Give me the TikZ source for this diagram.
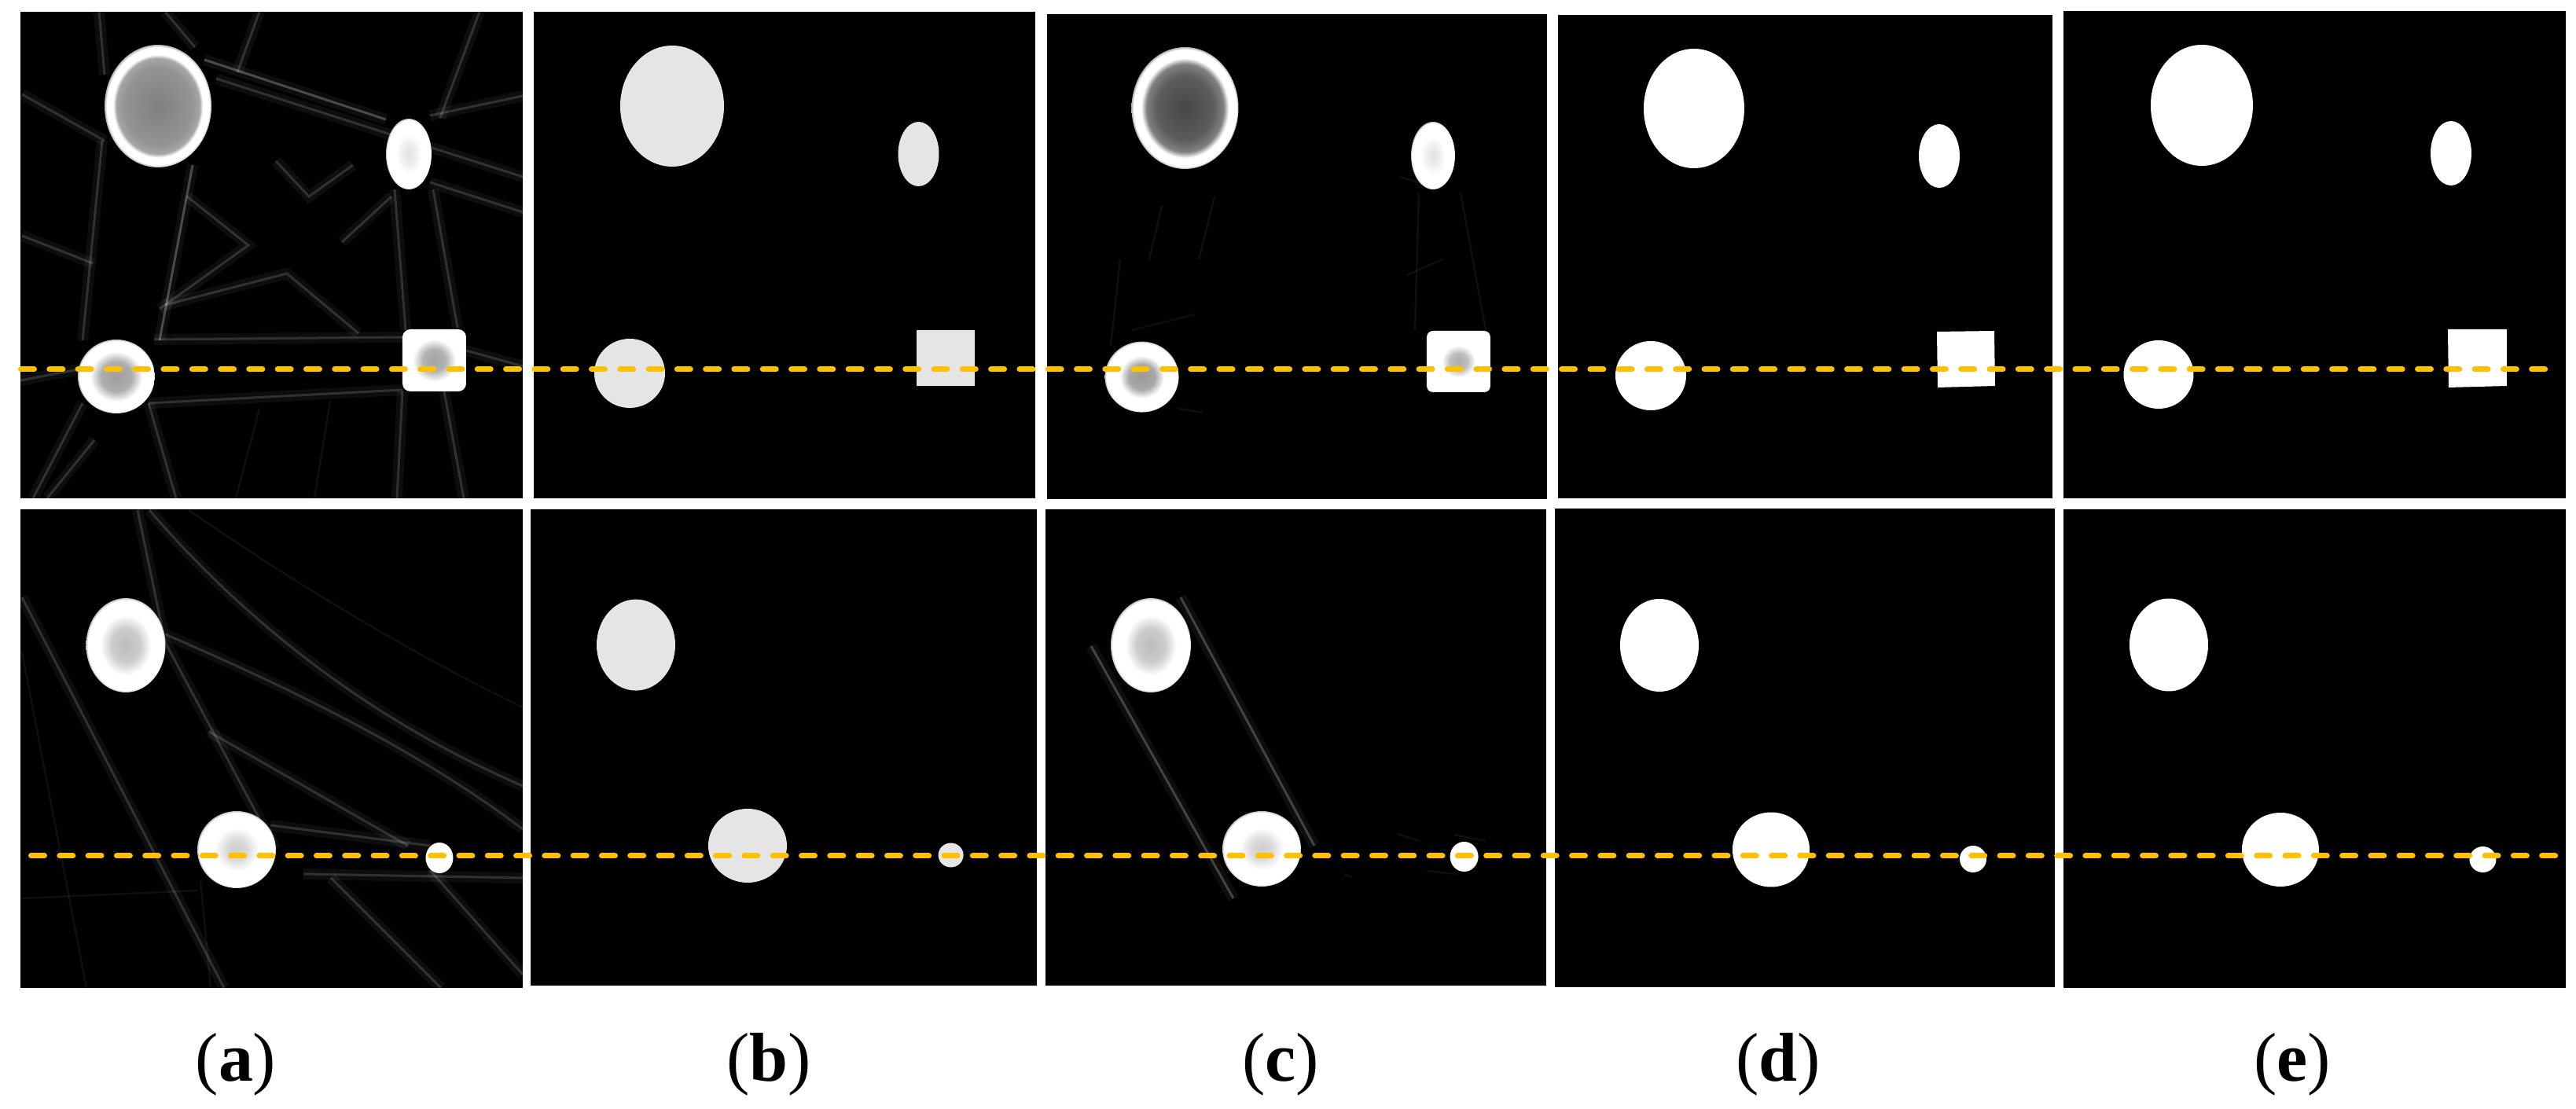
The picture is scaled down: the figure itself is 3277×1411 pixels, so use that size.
\documentclass[tikz,border=0pt]{standalone}
\usepackage{fontspec}
\setmainfont{Liberation Serif}
\definecolor{cutline}{RGB}{255,192,0}
\definecolor{phantomgray}{gray}{0.9}
% radial shadings: 25bp = object boundary
\pgfdeclareradialshading{aBig}{\pgfpointorigin}{color(0bp)=(black!50); color(16bp)=(black!42); color(19.5bp)=(black!35); color(21bp)=(white); color(24bp)=(white); color(25bp)=(black!30); color(50bp)=(black!30)}
\pgfdeclareradialshading{cBig}{\pgfpointorigin}{color(0bp)=(black!72); color(13bp)=(black!64); color(18bp)=(black!50); color(20.5bp)=(white); color(24bp)=(white); color(25bp)=(black!30); color(50bp)=(black!30)}
\pgfdeclareradialshading{softWhite}{\pgfpointorigin}{color(0bp)=(black!12); color(8bp)=(black!6); color(14bp)=(white); color(24bp)=(white); color(25bp)=(black!25); color(50bp)=(black!25)}
\pgfdeclareradialshading{aCirc}{\pgfpointorigin}{color(0bp)=(black!38); color(10bp)=(black!32); color(17bp)=(white); color(24bp)=(white); color(25bp)=(black!25); color(50bp)=(black!25)}
\pgfdeclareradialshading{aSq}{\pgfpointorigin}{color(0bp)=(black!36); color(9bp)=(black!30); color(17bp)=(white); color(50bp)=(white)}
\pgfdeclareradialshading{cCirc}{\pgfpointorigin}{color(0bp)=(black!40); color(9bp)=(black!34); color(15bp)=(white); color(24bp)=(white); color(25bp)=(black!25); color(50bp)=(black!25)}
\pgfdeclareradialshading{cSq}{\pgfpointorigin}{color(0bp)=(black!32); color(7bp)=(black!26); color(13bp)=(white); color(50bp)=(white)}
\pgfdeclareradialshading{lowEll}{\pgfpointorigin}{color(0bp)=(black!26); color(9bp)=(black!20); color(16bp)=(white); color(24bp)=(white); color(25bp)=(black!25); color(50bp)=(black!25)}
\pgfdeclareradialshading{lowCirc}{\pgfpointorigin}{color(0bp)=(black!20); color(7bp)=(black!14); color(14bp)=(white); color(24bp)=(white); color(25bp)=(black!25); color(50bp)=(black!25)}
\begin{document}
\begin{tikzpicture}[x=0.1pt,y=-0.1pt,
  panel/.style={fill=black},
  cut/.style={draw=cutline, line width=0.7pt, line cap=round, dash pattern=on 1.7pt off 1.93pt},
  streak/.style={draw=white, line width=0.3pt, draw opacity=0.15, preaction={draw=white, line width=1.4pt, draw opacity=0.05}},
  faint/.style={draw=white, line width=0.25pt, draw opacity=0.06},
  objgray/.style={fill=phantomgray},
  objwhite/.style={fill=white},
  lab/.style={anchor=base, font=\fontsize{8.8}{10}\selectfont, inner sep=0pt}]
\useasboundingbox (0,0) rectangle (3277,1411);
\fill[white] (0,0) rectangle (3277,1411);

% ---------------- panels ----------------
\fill[panel] (26,15) rectangle (665,634);
\fill[panel] (679,15) rectangle (1317,634);
\fill[panel] (1332,18) rectangle (1968,635);
\fill[panel] (1982,19) rectangle (2611,634);
\fill[panel] (2625,14) rectangle (3264,634);
\fill[panel] (26,648) rectangle (665,1257);
\fill[panel] (675,648) rectangle (1319,1254);
\fill[panel] (1330,648) rectangle (1967,1254);
\fill[panel] (1978,647) rectangle (2614,1256);
\fill[panel] (2625,648) rectangle (3264,1257);

% ---------------- (a) top: streak artefacts ----------------
\begin{scope}
\clip (26,15) rectangle (665,634);
\draw[streak] (28,120) -- (133,179);
\draw[streak] (28,300) -- (118,335);
\draw[streak, draw opacity=.25] (260,76) -- (491,152);
\draw[streak] (275,100) -- (665,225);
\draw[streak] (210,15) -- (248,60);
\draw[streak] (330,15) -- (302,92);
\draw[streak] (126,15) -- (133,95);
\draw[streak] (610,15) -- (560,150);
\draw[streak] (130,179) -- (105,433);
\draw[streak, draw opacity=.25] (245,210) -- (203,433);
\draw[streak] (502,241) -- (516,420);
\draw[streak] (551,241) -- (582,417);
\draw[streak] (196,432) -- (512,429);
\draw[streak] (189,513) -- (512,496);
\draw[streak] (512,498) -- (505,634);
\draw[streak] (565,498) -- (590,634);
\draw[streak] (189,513) -- (224,634);
\draw[streak] (105,513) -- (42,634);
\draw[streak] (210,388) -- (365,348) -- (456,424);
\draw[streak] (238,250) -- (316,312) -- (203,393);
\draw[streak] (435,308) -- (498,250);
\draw[streak] (351,205) -- (393,250) -- (449,210);
\draw[streak] (547,147) -- (665,122);
\draw[streak] (547,232) -- (665,270);
\draw[streak] (593,446) -- (665,466);
\draw[streak] (105,469) -- (26,484);
\draw[streak] (60,634) -- (120,560);
\draw[faint] (300,634) -- (330,520);
\draw[faint] (400,634) -- (420,510);
\end{scope}
% (a) top objects
\shade[shading=aBig] (201,135) ellipse [x radius=68, y radius=78];
\shade[shading=softWhite] (520,196) ellipse [x radius=29, y radius=45];
\shade[shading=aCirc] (148,479) ellipse [x radius=49, y radius=47];
\shade[shading=aSq, rounded corners=1pt] (512,419) rectangle (593,498);

% ---------------- (b) top ----------------
\fill[objgray] (855,135) ellipse [x radius=66, y radius=77];
\fill[objgray] (1168.5,196) ellipse [x radius=26, y radius=41];
\fill[objgray] (801,475) ellipse [x radius=45, y radius=44];
\fill[objgray] (1166.5,420) rectangle (1240,491);

% ---------------- (c) top ----------------
\begin{scope}
\clip (1332,18) rectangle (1968,635);
\draw[faint] (1413,440) -- (1425,330);
\draw[faint] (1462,330) -- (1478,262);
\draw[faint] (1545,250) -- (1525,330);
\draw[faint] (1780,225) -- (1832,240);
\draw[faint] (1790,350) -- (1835,330);
\draw[faint] (1805,245) -- (1800,420);
\draw[faint] (1858,245) -- (1890,420);
\draw[faint] (1440,420) -- (1520,400);
\draw[faint] (1500,520) -- (1530,525);
\end{scope}
\shade[shading=cBig] (1507.5,137.5) ellipse [x radius=68, y radius=77.5];
\shade[shading=softWhite] (1823,198) ellipse [x radius=28, y radius=43];
\shade[shading=cCirc] (1452.6,479.6) ellipse [x radius=47, y radius=45];
\shade[shading=cSq, rounded corners=0.8pt] (1815,421) rectangle (1896,499);

% ---------------- (d) top ----------------
\fill[objwhite] (2155,138) ellipse [x radius=64, y radius=76];
\fill[objwhite] (2467,198.5) ellipse [x radius=26, y radius=40.5];
\fill[objwhite] (2100,478) ellipse [x radius=45, y radius=44];
\fill[objwhite] (2464,422) -- (2537,421) -- (2538,491) -- (2465,493) -- cycle;

% ---------------- (e) top ----------------
\fill[objwhite] (2801,134) ellipse [x radius=65, y radius=77];
\fill[objwhite] (3118,195) ellipse [x radius=26, y radius=41];
\fill[objwhite] (2746,476.5) ellipse [x radius=44.5, y radius=43.5];
\fill[objwhite] (3114,419) -- (3189,419) -- (3189,491) -- (3115,493) -- cycle;

% ---------------- (a) bottom: streak artefacts ----------------
\begin{scope}
\clip (26,648) rectangle (665,1257);
\draw[streak] (28,760) -- (285,1257);
\draw[streak] (175,649) -- (210,817) -- (351,1081);
\draw[streak] (210,807) .. controls (380,880) and (540,960) .. (665,1055);
\draw[streak] (190,649) .. controls (320,800) and (480,920) .. (665,1000);
\draw[faint] (240,649) .. controls (400,760) and (560,850) .. (665,900);
\draw[streak] (344,1050) -- (547,1076);
\draw[streak] (386,1112) -- (665,1117);
\draw[streak] (547,1107) -- (665,1240);
\draw[streak] (421,1117) -- (561,1257);
\draw[faint] (28,1143) -- (252,1133);
\draw[streak] (266,931) -- (519,1076);
\draw[faint] (255,1120) -- (268,1257);
\draw[faint] (28,830) -- (110,1257);
\end{scope}
\shade[shading=lowEll] (160,821) ellipse [x radius=50.5, y radius=60];
\shade[shading=lowCirc] (301,1081) ellipse [x radius=50, y radius=49];
\fill[objwhite] (559,1091.5) ellipse [x radius=17.5, y radius=19.5];

% ---------------- (b) bottom ----------------
\fill[objgray] (809,820.6) ellipse [x radius=50, y radius=58];
\fill[objgray] (951,1076) ellipse [x radius=50, y radius=47];
\fill[objgray] (1209.6,1088) ellipse [x radius=16, y radius=15.5];

% ---------------- (c) bottom ----------------
\begin{scope}
\clip (1330,648) rectangle (1967,1254);
\draw[streak, draw opacity=.22] (1388,822) -- (1569,1143);
\draw[streak, draw opacity=.22] (1502,760) -- (1672,1076);
\draw[faint] (1778,1061) -- (1805,1070);
\draw[faint] (1815,1108) -- (1852,1112);
\draw[faint] (1850,1062) -- (1890,1070);
\draw[faint] (1710,1112) -- (1720,1116);
\end{scope}
\shade[shading=lowEll] (1464,821) ellipse [x radius=51, y radius=60];
\shade[shading=lowCirc] (1605,1080) ellipse [x radius=50, y radius=48];
\fill[objwhite] (1862.6,1090) ellipse [x radius=18, y radius=19];

% ---------------- (d) bottom ----------------
\fill[objwhite] (2111,821) ellipse [x radius=50, y radius=59];
\fill[objwhite] (2253,1081) ellipse [x radius=49, y radius=47.5];
\fill[objwhite] (2510,1093) ellipse [x radius=17, y radius=17];

% ---------------- (e) bottom ----------------
\fill[objwhite] (2759,820.5) ellipse [x radius=50, y radius=59];
\fill[objwhite] (2901,1081) ellipse [x radius=49, y radius=47];
\fill[objwhite] (3158.5,1093.5) ellipse [x radius=17, y radius=16.5];

% ---------------- profile lines ----------------
\coordinate (t0) at (26.5,470);
\coordinate (t1) at (3246,470);
\coordinate (b0) at (39.5,1089);
\coordinate (b1) at (3262,1089);
\draw[cut] (t0) -- (t1);
\draw[cut] (b0) -- (b1);

% ---------------- labels ----------------
\node[lab] (la) at (300,1376) {(\textbf{a})};
\node[lab] (lb) at (978,1376) {(\textbf{b})};
\node[lab] (lc) at (1629,1376) {(\textbf{c})};
\node[lab] (ld) at (2262,1376) {(\textbf{d})};
\node[lab] (le) at (2916,1376) {(\textbf{e})};
\end{tikzpicture}
\end{document}
